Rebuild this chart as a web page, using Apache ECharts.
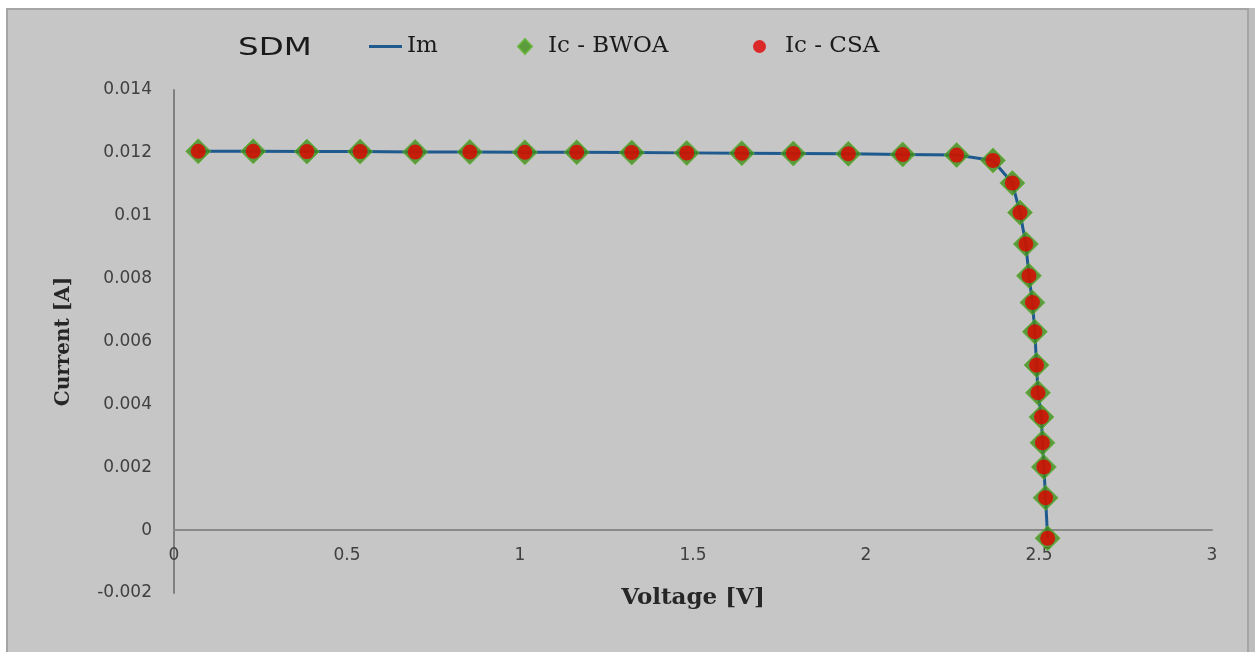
<!DOCTYPE html>
<html>
<head>
<meta charset="utf-8">
<script src="https://cdn.jsdelivr.net/npm/echarts@6/dist/echarts.min.js"></script>
<style>
html,body{margin:0;padding:0;background:#ffffff;}
#chart{width:1255px;height:652px;}
</style>
</head>
<body>
<div id="chart"></div>
<script>
// ---- data ----
const voltage = [0.070, 0.229, 0.384, 0.538, 0.697, 0.855, 1.014, 1.164, 1.323, 1.482, 1.641, 1.790, 1.949, 2.106, 2.262,
                 2.367, 2.423, 2.445, 2.462, 2.471, 2.481, 2.488, 2.493, 2.497, 2.507, 2.510, 2.514, 2.519, 2.525];
const currentIm = [0.01205, 0.01205, 0.01204, 0.01204, 0.01203, 0.01203, 0.01202, 0.01202, 0.01201, 0.01200, 0.01199, 0.01198, 0.01197, 0.01195, 0.01193,
                   0.01176, 0.01104, 0.01010, 0.00910, 0.00809, 0.00724, 0.00631, 0.00525, 0.00437, 0.00360, 0.00278, 0.00201, 0.00103, -0.00026];
const currentBWOA = [0.01205, 0.01205, 0.01204, 0.01204, 0.01203, 0.01203, 0.01202, 0.01202, 0.01201, 0.01200, 0.01199, 0.01198, 0.01197, 0.01195, 0.01193,
                     0.01176, 0.01104, 0.01010, 0.00910, 0.00809, 0.00724, 0.00631, 0.00525, 0.00437, 0.00360, 0.00278, 0.00201, 0.00103, -0.00026];
const currentCSA = [0.01205, 0.01205, 0.01204, 0.01204, 0.01203, 0.01203, 0.01202, 0.01202, 0.01201, 0.01200, 0.01199, 0.01198, 0.01197, 0.01195, 0.01193,
                    0.01176, 0.01104, 0.01010, 0.00910, 0.00809, 0.00724, 0.00631, 0.00525, 0.00437, 0.00360, 0.00278, 0.00201, 0.00103, -0.00026];
const seriesNames = ['Im', 'Ic - BWOA', 'Ic - CSA'];
const xTicks = {min: 0, max: 3, interval: 0.5};
const yTicks = {min: -0.002, max: 0.014, interval: 0.002};

const pairs = (xs, ys) => xs.map((x, i) => [x, ys[i]]);
const legendText = (padLeft) => ({fontFamily: 'DejaVu Serif', fontSize: 23, color: '#1a1a1a', padding: [0, 0, 0, padLeft]});

const GRID = {left: 174, right: 43, top: 90, bottom: 59};
const gridHeight = 652 - GRID.top - GRID.bottom;
// the horizontal axis (with its labels) sits on the zero current line
const xAxisOffset = -gridHeight * (0 - yTicks.min) / (yTicks.max - yTicks.min);

const chart = echarts.init(document.getElementById('chart'), null, {renderer: 'canvas'});
chart.setOption({
  backgroundColor: '#ffffff',
  animation: false,
  graphic: [
    {type: 'rect', z: -10, shape: {x: 6, y: 8, width: 1249, height: 644},
     style: {fill: '#c6c6c6'}},
    {type: 'rect', z: -9, shape: {x: 7, y: 9, width: 1241, height: 650},
     style: {fill: 'none', stroke: '#a5a5a5', lineWidth: 2}},
    {type: 'rect', z: -9, shape: {x: 1249, y: 8, width: 6, height: 644},
     style: {fill: '#bdbdbd'}},
    {type: 'text', x: 238, y: 36, scaleX: 1.3, style: {text: 'SDM', fontFamily: 'DejaVu Sans', fontSize: 25, fill: '#1a1a1a'}}
  ],
  legend: [
    {data: [{name: seriesNames[0], icon: 'rect'}], left: 364, top: 30, itemWidth: 33, itemHeight: 3,
     itemStyle: {color: '#1f5a8e'}, textStyle: legendText(0)},
    {data: [{name: seriesNames[1], icon: 'diamond'}], left: 512, top: 30, itemWidth: 14, itemHeight: 15,
     textStyle: legendText(11)},
    {data: [{name: seriesNames[2], icon: 'circle'}], left: 748, top: 30, itemWidth: 13, itemHeight: 13,
     textStyle: legendText(14)}
  ],
  grid: Object.assign({containLabel: false, outerBoundsMode: 'none'}, GRID),
  xAxis: {
    type: 'value', min: xTicks.min, max: xTicks.max, interval: xTicks.interval,
    offset: xAxisOffset,
    name: 'Voltage [V]', nameLocation: 'middle', nameGap: 56, nameMoveOverlap: false,
    nameTextStyle: {fontFamily: 'DejaVu Serif', fontWeight: 'bold', fontSize: 23, color: '#262626'},
    axisLine: {onZero: false, lineStyle: {color: '#8a8a8a', width: 2}},
    axisTick: {show: false},
    splitLine: {show: false},
    axisLabel: {margin: 17, fontFamily: 'DejaVu Sans', fontSize: 17, color: '#404040',
      formatter: v => String(parseFloat(v.toFixed(2)))}
  },
  yAxis: {
    type: 'value', min: yTicks.min, max: yTicks.max, interval: yTicks.interval,
    name: 'Current [A]', nameLocation: 'middle', nameGap: 100,
    nameTextStyle: {fontFamily: 'DejaVu Serif', fontWeight: 'bold', fontSize: 20, color: '#262626'},
    axisLine: {show: true, onZero: false, lineStyle: {color: '#808080', width: 2}},
    axisTick: {show: false},
    splitLine: {show: false},
    axisLabel: {margin: 22, fontFamily: 'DejaVu Sans', fontSize: 17, color: '#404040',
      formatter: v => String(parseFloat(v.toFixed(3)))}
  },
  series: [
    {name: seriesNames[0], type: 'line', data: pairs(voltage, currentIm), showSymbol: false, symbol: 'none',
     lineStyle: {color: '#1f5a8e', width: 3}, itemStyle: {color: '#1f5a8e'}, z: 2},
    {name: seriesNames[1], type: 'scatter', data: pairs(voltage, currentBWOA), symbol: 'diamond', symbolSize: [25, 25],
     itemStyle: {color: '#408f1a', borderColor: '#62b432', borderWidth: 1}, z: 3},
    {name: seriesNames[2], type: 'scatter', data: pairs(voltage, currentCSA), symbol: 'circle', symbolSize: 15,
     itemStyle: {color: '#e00000'}, z: 4}
  ]
});
</script>
</body>
</html>
